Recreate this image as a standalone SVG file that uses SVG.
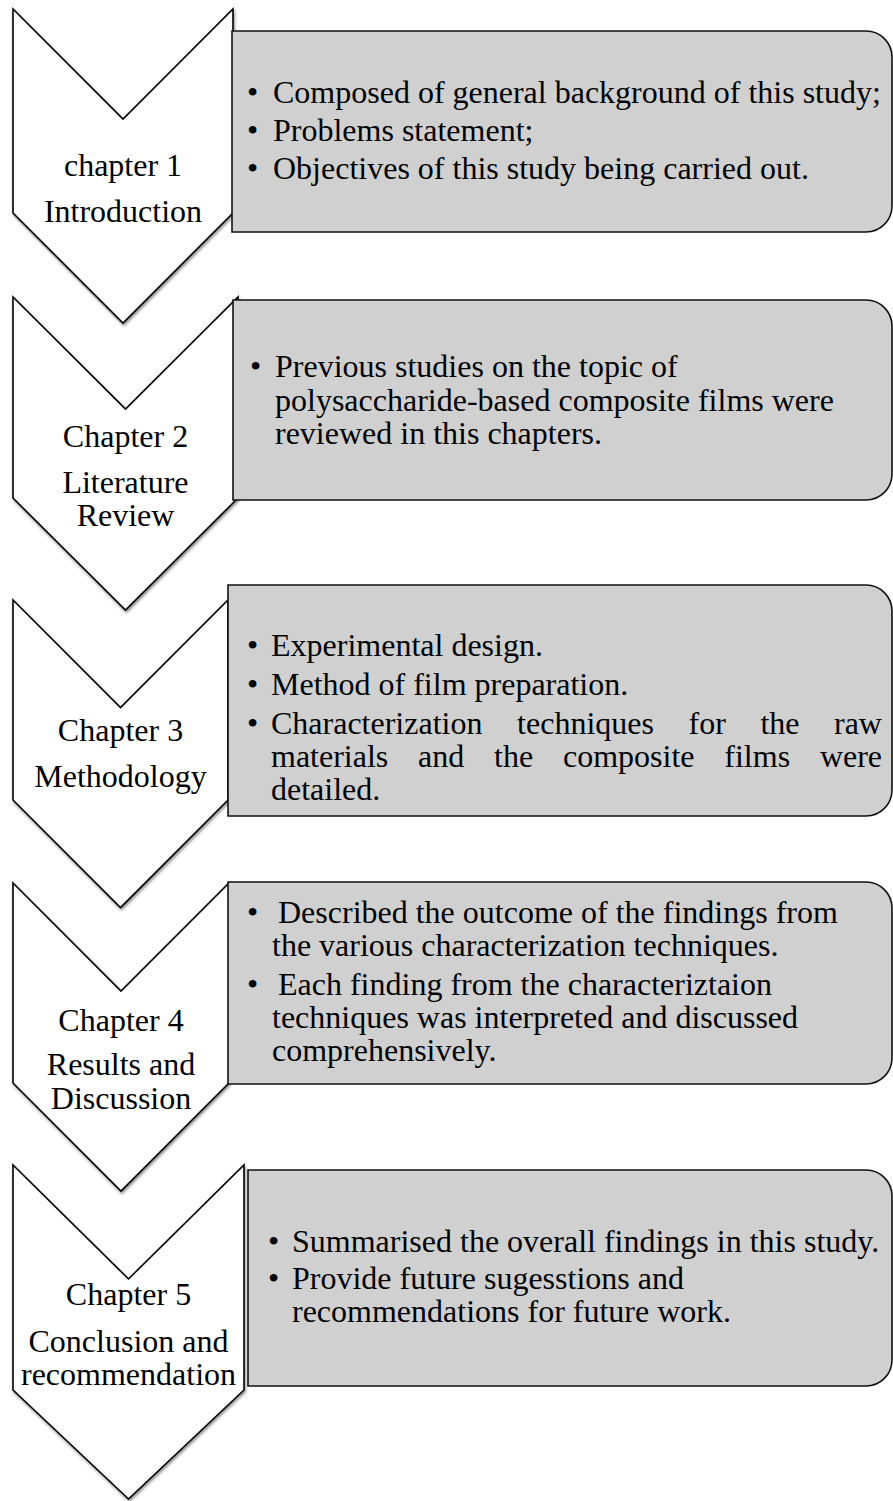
<svg xmlns="http://www.w3.org/2000/svg" width="893" height="1501" viewBox="0 0 893 1501">
<defs>
<filter id="sh" x="-10%" y="-10%" width="120%" height="120%">
<feGaussianBlur in="SourceAlpha" stdDeviation="1.6"/>
<feOffset dx="1" dy="1.5" result="b"/>
<feComponentTransfer><feFuncA type="linear" slope="0.45"/></feComponentTransfer>
<feMerge><feMergeNode/><feMergeNode in="SourceGraphic"/></feMerge>
</filter>
</defs>
<style>
.chev{fill:#ffffff;stroke:#000;stroke-width:1.6;stroke-linejoin:miter}
.box{fill:#d0d0d0;stroke:#111;stroke-width:1.6}
text{font-family:"Liberation Serif","Times New Roman",serif;font-size:32px;fill:#000}
.lbl{text-anchor:middle}
</style>
<rect width="893" height="1501" fill="#fff"/>
<g id="connectors"></g>

<g id="chapter1">
<polygon class="chev" filter="url(#sh)" points="13,9 123,119 233,9 233,213 123,323 13,213"/>
<text class="lbl" x="123" y="176">chapter 1</text>
<text class="lbl" x="123" y="222">Introduction</text>
</g>
<g id="box1">
<path class="box" d="M232,31 H866 A26,26 0 0 1 892,57 V206 A26,26 0 0 1 866,232 H232 Z"/>
<text x="247" y="103">•</text><text x="273" y="103">Composed of general background of this study;</text>
<text x="247" y="141">•</text><text x="273" y="141">Problems statement;</text>
<text x="247" y="179">•</text><text x="273" y="179">Objectives of this study being carried out.</text>
</g>

<g id="chapter2">
<polygon class="chev" filter="url(#sh)" points="13,297 125.5,409 238,297 238,498 125.5,610 13,498"/>
<text class="lbl" x="125.5" y="447">Chapter 2</text>
<text class="lbl" x="125.5" y="493">Literature</text>
<text class="lbl" x="125.5" y="526">Review</text>
</g>
<g id="box2">
<path class="box" d="M233,300 H866 A26,26 0 0 1 892,326 V474 A26,26 0 0 1 866,500 H233 Z"/>
<text x="250" y="377">•</text><text x="275" y="377">Previous studies on the topic of</text>
<text x="275" y="410.5">polysaccharide-based composite films were</text>
<text x="275" y="444">reviewed in this chapters.</text>
</g>

<g id="chapter3">
<polygon class="chev" filter="url(#sh)" points="13,600 120.5,707.5 228,600 228,800 120.5,907.5 13,800"/>
<text class="lbl" x="120.5" y="741">Chapter 3</text>
<text class="lbl" x="120.5" y="787">Methodology</text>
</g>
<g id="box3">
<path class="box" d="M228,585 H866 A26,26 0 0 1 892,611 V790 A26,26 0 0 1 866,816 H228 Z"/>
<text x="247" y="656">•</text><text x="271" y="656">Experimental design.</text>
<text x="247" y="695">•</text><text x="271" y="695">Method of film preparation.</text>
<text x="247" y="734">•</text>
<text y="734"><tspan x="271">Characterization</tspan><tspan x="517.1">techniques</tspan><tspan x="688.5">for</tspan><tspan x="760.4">the</tspan><tspan x="834">raw</tspan></text>
<text y="767"><tspan x="271">materials</tspan><tspan x="418.1">and</tspan><tspan x="494.1">the</tspan><tspan x="563">composite</tspan><tspan x="724.3">films</tspan><tspan x="819.9">were</tspan></text>
<text x="271" y="800">detailed.</text>
</g>

<g id="chapter4">
<polygon class="chev" filter="url(#sh)" points="13,883 121,991 229,883 229,1083 121,1191 13,1083"/>
<text class="lbl" x="121" y="1031">Chapter 4</text>
<text class="lbl" x="121" y="1075">Results and</text>
<text class="lbl" x="121" y="1109">Discussion</text>
</g>
<g id="box4">
<path class="box" d="M228,882 H866 A26,26 0 0 1 892,908 V1058 A26,26 0 0 1 866,1084 H228 Z"/>
<text x="247" y="923">•</text><text x="278" y="923">Described the outcome of the findings from</text>
<text x="272" y="956">the various characterization techniques.</text>
<text x="247" y="995">•</text><text x="278" y="995">Each finding from the characteriztaion</text>
<text x="272" y="1028">techniques was interpreted and discussed</text>
<text x="272" y="1061">comprehensively.</text>
</g>

<g id="chapter5">
<polygon class="chev" filter="url(#sh)" points="13,1165 128.5,1279 244,1165 244,1390 128.5,1499 13,1390"/>
<text class="lbl" x="128.5" y="1305">Chapter 5</text>
<text class="lbl" x="128.5" y="1352">Conclusion and</text>
<text class="lbl" x="128.5" y="1385">recommendation</text>
</g>
<g id="box5">
<path class="box" d="M248,1170 H866 A26,26 0 0 1 892,1196 V1360 A26,26 0 0 1 866,1386 H248 Z"/>
<text x="268" y="1252">•</text><text x="292" y="1252">Summarised the overall findings in this study.</text>
<text x="268" y="1289">•</text><text x="292" y="1289">Provide future sugesstions and</text>
<text x="292" y="1322">recommendations for future work.</text>
</g>
</svg>
